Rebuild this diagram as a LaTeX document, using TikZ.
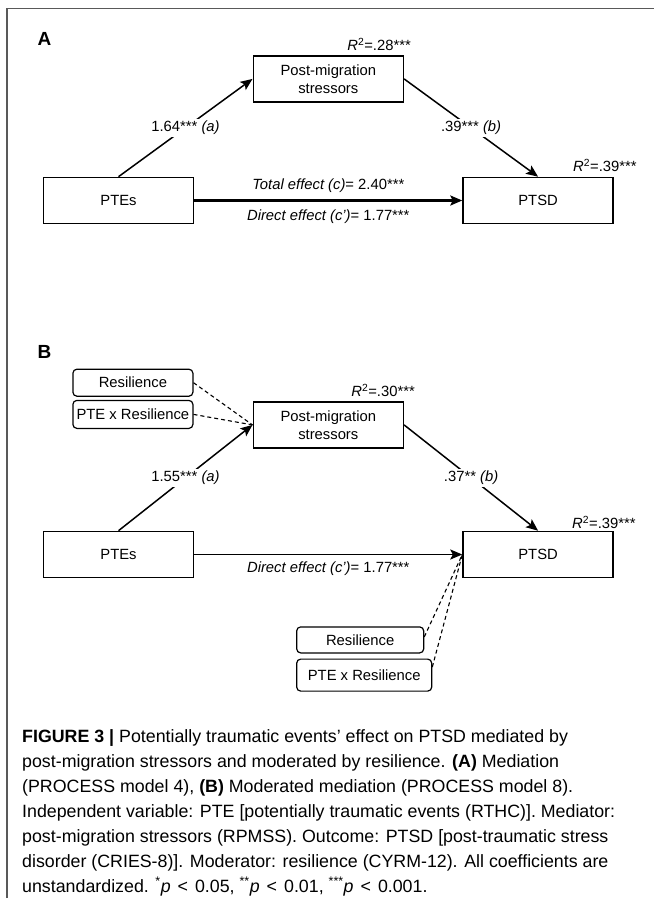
\documentclass[tikz,border=0pt]{standalone}
\usepackage{fontspec}
\setmainfont{Liberation Sans}
\usetikzlibrary{arrows.meta, positioning, calc}
\newcommand{\boxfont}{\fontsize{14.8}{18}\selectfont}
\newcommand{\panelfont}{\fontsize{19}{22}\selectfont\bfseries}
\newcommand{\captionfont}{\fontsize{17.8}{25}\selectfont}
\newcommand{\lessthan}{\hspace{7pt}<\hspace{7pt}}
\tikzstyle{varbox} = [rectangle, draw=black, line width=1.6pt, minimum width=150pt, minimum height=46pt, text centered, align=center, font=\boxfont]
\tikzstyle{modbox} = [rectangle, rounded corners=4pt, draw=black, line width=1.2pt, minimum height=27pt, inner sep=2pt, text centered, font=\boxfont]
\tikzstyle{arrow} = [line width=1.5pt, -{Stealth[length=12pt, width=10pt, inset=2.5pt]}]
\tikzstyle{thick_arrow} = [line width=2.5pt, -{Stealth[length=12pt, width=10pt, inset=2.5pt]}]
\tikzstyle{dashed_line} = [line width=1.1pt, dash pattern=on 4pt off 3pt]
\tikzstyle{coef} = [fill=white, inner sep=2pt, font=\boxfont]
\tikzstyle{effectlabel} = [inner sep=2pt, font=\boxfont]
\tikzstyle{rsquare} = [inner sep=1pt, font=\boxfont]
\tikzstyle{panellabel} = [inner sep=0pt, font=\panelfont]
\tikzstyle{frame_line} = [draw=black!65, line width=1.5pt]
\tikzstyle{caption_text} = [inner sep=0pt, align=left, font=\captionfont]

\begin{document}
\begin{tikzpicture}[x=1pt, y=1pt]
\useasboundingbox (0,0) rectangle (654,-906);

% --- Frame ---
\draw [frame_line] (7,-898) -- (7,-8.5) -- (654,-8.5);

% --- Panel A: Mediation ---
\node (label_a) [panellabel] at (44.5,-38.5) {A};
\node (ptes_a) [varbox] at (118.5,-200.5) {PTEs};
\node (ptsd_a) [varbox, right=268pt of ptes_a] {PTSD};
\coordinate (mid_a) at ($(ptes_a.north)!0.5!(ptsd_a.north)$);
\node (post_a) [varbox, above=74pt of mid_a] {Post-migration\\stressors};
\node (r2_post_a) [rsquare, above=3pt of post_a.north east, xshift=-25pt] {\textit{R}\textsuperscript{2}=.28***};
\node (r2_ptsd_a) [rsquare, above=4pt of ptsd_a.north east, xshift=-9pt] {\textit{R}\textsuperscript{2}=.39***};

% Paths a, b and c
\draw [arrow] (ptes_a.north) -- node[coef] {1.64*** \textit{(a)}} (post_a.west);
\draw [arrow] (post_a.east) -- node[coef] {.39*** \textit{(b)}} (ptsd_a.north);
\draw [thick_arrow] (ptes_a) -- node[effectlabel, above, yshift=4.5pt] {\textit{Total effect (c)}= 2.40***} node[effectlabel, below, yshift=-6.5pt] {\textit{Direct effect (c')}= 1.77***} (ptsd_a);

% --- Panel B: Moderated mediation ---
\node (label_b) [panellabel] at (44.5,-352) {B};
\node (ptes_b) [varbox] at (118.5,-554.5) {PTEs};
\node (ptsd_b) [varbox, right=268pt of ptes_b] {PTSD};
\coordinate (mid_b) at ($(ptes_b.north)!0.5!(ptsd_b.north)$);
\node (post_b) [varbox, above=82pt of mid_b] {Post-migration\\stressors};
\node (r2_post_b) [rsquare, above=3pt of post_b.north east, xshift=-21pt] {\textit{R}\textsuperscript{2}=.30***};
\node (r2_ptsd_b) [rsquare, above=1pt of ptsd_b.north east, xshift=-10pt] {\textit{R}\textsuperscript{2}=.39***};

% Moderators
\node (ptexres_top) [modbox, minimum width=120pt, minimum height=28pt, left=59pt of post_b, yshift=10.5pt] {PTE x Resilience};
\node (res_top) [modbox, minimum width=120pt, above=3pt of ptexres_top] {Resilience};
\node (res_bot) [modbox, minimum width=127pt, minimum height=26pt, below left=48pt and 38pt of ptsd_b.south west] {Resilience};
\node (ptexres_bot) [modbox, minimum width=135pt, minimum height=32pt, below=5pt of res_bot.south west, anchor=north west] {PTE x Resilience};

% Moderation links
\draw [dashed_line] (res_top.east) -- (post_b.west);
\draw [dashed_line] (ptexres_top.east) -- (post_b.west);
\draw [dashed_line] ([yshift=3pt]res_bot.east) -- (ptsd_b.west);
\draw [dashed_line] ([yshift=8pt]ptexres_bot.east) -- (ptsd_b.west);

% Paths a, b and c'
\draw [arrow] (ptes_b.north) -- node[coef] {1.55*** \textit{(a)}} (post_b.west);
\draw [arrow] (post_b.east) -- node[coef] {.37** \textit{(b)}} (ptsd_b.north);
\draw [arrow, line width=1.7pt] (ptes_b) -- node[effectlabel, below, yshift=-4.5pt] {\textit{Direct effect (c')}= 1.77***} (ptsd_b);

% --- Caption ---
\node (caption) [caption_text, anchor=north west] at (22,-729) {\textbf{FIGURE 3 |} Potentially traumatic events’ effect on PTSD mediated by\\
post-migration stressors and moderated by resilience. \textbf{(A)} Mediation\\
(PROCESS model 4), \textbf{(B)} Moderated mediation (PROCESS model 8).\\
Independent variable: PTE [potentially traumatic events (RTHC)]. Mediator:\\
post-migration stressors (RPMSS). Outcome: PTSD [post-traumatic stress\\
disorder (CRIES-8)]. Moderator: resilience (CYRM-12). All coefficients are\\
unstandardized. \textsuperscript{*}\textit{p}\lessthan 0.05, \textsuperscript{**}\textit{p}\lessthan 0.01, \textsuperscript{***}\textit{p}\lessthan 0.001.};

\end{tikzpicture}
\end{document}
